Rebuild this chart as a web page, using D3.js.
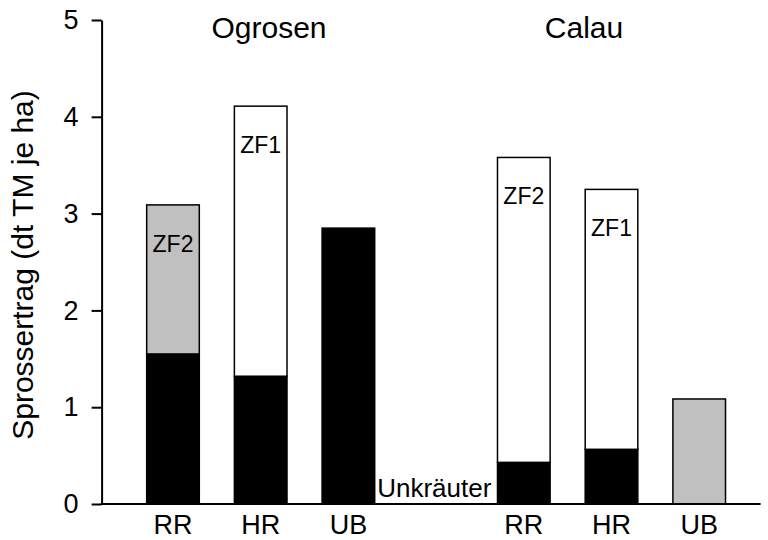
<!DOCTYPE html>
<html>
<head>
<meta charset="utf-8">
<script src="https://cdn.jsdelivr.net/npm/d3@7"></script>
<style>
  html, body { margin: 0; padding: 0; background: #fff; }
  svg { display: block; font-family: "Liberation Sans", Arial, sans-serif; }
</style>
</head>
<body>
<svg id="chart" width="768" height="540"></svg>
<script>
// Sites and treatments
const sites = ["Ogrosen", "Calau"];
const treatments = ["RR", "HR", "UB"];

// Shoot yield (dt TM je ha), per slot: Ogrosen RR, HR, UB, spacer, Calau RR, HR, UB
const weedsBlack = [1.55, 1.32, 2.85, 0, 0.43, 0.565, 0];
const gray = [1.54, 0, 0, 0, 0, 0, 1.085];
const catchWhite = [0, 2.79, 0, 0, 3.15, 2.685, 0];
const segLabels = ["ZF2", "ZF1", "", "", "ZF2", "ZF1", ""];

const yTicks = [0, 1, 2, 3, 4, 5];
const yTitle = "Sprossertrag (dt TM je ha)";
const weedLabel = "Unkräuter";

// slot keys: three per site with a spacer between the sites
const slots = [
  ...treatments.map(t => sites[0] + "-" + t),
  "spacer",
  ...treatments.map(t => sites[1] + "-" + t)
];
const slotLabel = k => k === "spacer" ? "" : k.split("-")[1];

const rows = slots.map((k, i) => ({
  key: k, black: weedsBlack[i], gray: gray[i], white: catchWhite[i], label: segLabels[i]
}));

const svg = d3.select("#chart");
const axisX = 101.6, baseY = 504, topY = 20;

const y = d3.scaleLinear().domain([0, 5]).range([baseY, topY]);
const x = d3.scaleBand().domain(slots).range([111.6, 760.6]).padding(0.4);

const keys = ["black", "gray", "white"];
const fills = { black: "#000000", gray: "#c0c0c0", white: "#ffffff" };
const stacked = d3.stack().keys(keys)(rows);

const bars = svg.append("g");
stacked.forEach(layer => {
  bars.selectAll(null)
    .data(layer.filter(d => d[1] - d[0] > 0))
    .join("rect")
    .attr("x", d => x(d.data.key))
    .attr("width", x.bandwidth())
    .attr("y", d => y(d[1]))
    .attr("height", d => y(d[0]) - y(d[1]))
    .attr("fill", fills[layer.key])
    .attr("stroke", "#000")
    .attr("stroke-width", 1.5);
});

// labels of the catch-crop segments, just under each bar top
svg.append("g").selectAll("text")
  .data(rows.filter(r => r.label))
  .join("text")
  .attr("x", d => x(d.key) + x.bandwidth() / 2)
  .attr("y", d => y(d.black + d.gray + d.white) + 47)
  .attr("text-anchor", "middle")
  .attr("font-size", 23)
  .attr("fill", "#000")
  .text(d => d.label);

// weeds label next to the Ogrosen UB bar
svg.append("text")
  .attr("x", x(sites[0] + "-UB") + x.bandwidth() + 2.5)
  .attr("y", 497)
  .attr("font-size", 26)
  .attr("fill", "#000")
  .text(weedLabel);

// y axis
const yAxis = svg.append("g")
  .attr("transform", `translate(${axisX},0)`)
  .call(d3.axisLeft(y).tickValues(yTicks).tickFormat(d3.format("d")).tickSize(10).tickPadding(13).tickSizeOuter(0));
yAxis.select(".domain").attr("stroke-width", 2);
yAxis.selectAll(".tick line").attr("stroke-width", 2);
yAxis.selectAll(".tick text").attr("font-size", 27).attr("font-family", "Liberation Sans, Arial, sans-serif").attr("fill", "#000");

// x axis: baseline from the y axis to the end of the plot
const xAxis = svg.append("g")
  .attr("transform", `translate(0,${baseY})`)
  .call(d3.axisBottom(x).tickSize(0).tickPadding(11).tickFormat(slotLabel));
xAxis.select(".domain").remove();
xAxis.selectAll(".tick text").attr("font-size", 27).attr("font-family", "Liberation Sans, Arial, sans-serif").attr("fill", "#000");
svg.append("line")
  .attr("x1", axisX - 1).attr("x2", x.range()[1])
  .attr("y1", baseY).attr("y2", baseY)
  .attr("stroke", "#000").attr("stroke-width", 2);

// site titles
const titleX = [269, 584];
svg.append("g").selectAll("text")
  .data(sites)
  .join("text")
  .attr("x", (d, i) => titleX[i])
  .attr("y", 38)
  .attr("text-anchor", "middle")
  .attr("font-size", 30)
  .attr("fill", "#000")
  .text(d => d);

// y axis title
svg.append("text")
  .attr("transform", `translate(33,265) rotate(-90)`)
  .attr("text-anchor", "middle")
  .attr("font-size", 30)
  .attr("fill", "#000")
  .text(yTitle);
</script>
</body>
</html>
